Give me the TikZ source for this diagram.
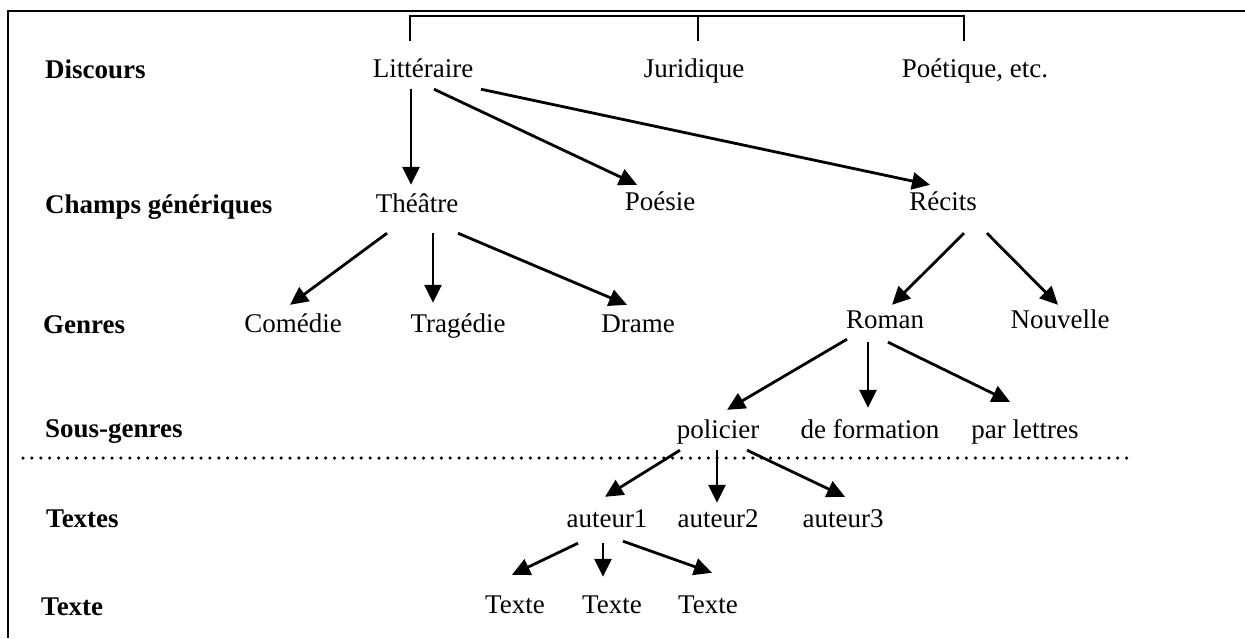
\documentclass[tikz,border=0pt]{standalone}
\usepackage{fontspec}
\setmainfont{Liberation Serif}
\usetikzlibrary{arrows.meta}

\begin{document}
\begin{tikzpicture}[x=1pt,y=-1pt,
  txt/.style={font=\fontsize{27}{32}\selectfont, text height=20pt, text depth=7pt, inner sep=5pt, anchor=base},
  lbl/.style={txt, font=\fontsize{27}{32}\selectfont\bfseries, anchor=base west},
  arr/.style={line width=2.8pt, -{Triangle[length=18pt,width=17pt]}}]

\useasboundingbox (0,0) rectangle (1245,638);
\draw [line width=1.5pt] (8,638) -- (8,11) -- (1245,11);

% levels
\node[lbl] (discours) at (40,78) {Discours};
\node[lbl] (champs) at (40,213) {Champs génériques};
\node[lbl] (genres) at (38,333) {Genres};
\node[lbl] (sousgenres) at (40,437) {Sous-genres};
\node[lbl] (textes) at (41,527) {Textes};
\node[lbl] (texte) at (36,615) {Texte};

% discours
\node[txt] (lit) at (423,77) {Littéraire};
\node[txt] (jur) at (694,77) {Juridique};
\node[txt] (poet) at (975,77) {Poétique, etc.};
\draw [line width=1.5pt] (410,41) -- (410,16) -- (964,16) -- (964,41);
\draw [line width=1.5pt] (698,16) -- (698,41);

% champs
\node[txt] (theatre) at (417,212) {Théâtre};
\node[txt] (poesie) at (660,210) {Poésie};
\node[txt] (recits) at (943,210) {Récits};

\draw[arr] ([xshift=-12pt]lit.south) -- ([xshift=-6pt,yshift=2pt]theatre.north);
\draw[arr] ([xshift=11pt]lit.south) -- ([xshift=-23pt]poesie.north);
\draw[arr] ([xshift=58pt]lit.south) -- ([xshift=-13pt]recits.north);

% genres
\node[txt] (comedie) at (293,332) {Comédie};
\node[txt] (tragedie) at (458,332) {Tragédie};
\node[txt] (drame) at (638,332) {Drame};
\node[txt] (roman) at (885,328) {Roman};
\node[txt] (nouvelle) at (1060,328) {Nouvelle};

\draw[arr] ([xshift=-30pt,yshift=-9pt]theatre.south) -- ([xshift=-3pt,yshift=2pt]comedie.north);
\draw[arr] ([xshift=16pt,yshift=-9pt]theatre.south) -- ([xshift=-25pt,yshift=4pt]tragedie.north);
\draw[arr] ([xshift=41pt,yshift=-9pt]theatre.south) -- ([xshift=-11pt,yshift=2pt]drame.north);
\draw[arr] ([xshift=21pt,yshift=-11pt]recits.south) -- ([xshift=7pt,yshift=-2pt]roman.north);
\draw[arr] ([xshift=44pt,yshift=-11pt]recits.south) -- ([xshift=-2pt,yshift=-2pt]nouvelle.north);

% sous-genres
\node[txt] (policier) at (718,438) {policier};
\node[txt] (formation) at (870,438) {de formation};
\node[txt] (lettres) at (1025,438) {par lettres};

\draw[arr] ([xshift=-38pt,yshift=1pt]roman.south) -- ([xshift=9pt,yshift=3pt]policier.north);
\draw[arr] ([xshift=-17pt,yshift=-2pt]roman.south) -- ([xshift=-2pt,yshift=5pt]formation.north);
\draw[arr] ([xshift=3pt,yshift=-2pt]roman.south) -- ([xshift=-15pt,yshift=11pt]lettres.north);

\draw [line width=3.5pt, line cap=round, dash pattern=on 0pt off 8.9pt] (23,458) -- (1130,458);

% textes
\node[txt] (aut1) at (607,527) {auteur1};
\node[txt] (aut2) at (718,527) {auteur2};
\node[txt] (aut3) at (843,527) {auteur3};

\draw[arr] ([xshift=-38pt]policier.south) -- ([xshift=-2pt,yshift=5pt]aut1.north);
\draw[arr] ([xshift=-1pt]policier.south) -- ([xshift=-1pt,yshift=-1pt]aut2.north);
\draw[arr] ([xshift=29pt]policier.south) -- ([xshift=2pt,yshift=5pt]aut3.north);

% texte
\node[txt] (t1) at (515,613) {Texte};
\node[txt] (t2) at (612,613) {Texte};
\node[txt] (t3) at (708,613) {Texte};

\draw[arr] ([xshift=-29pt,yshift=-4pt]aut1.south) -- ([xshift=-3pt,yshift=13pt]t1.north);
\draw[arr] ([xshift=-4pt,yshift=-4pt]aut1.south) -- ([xshift=-9pt,yshift=11pt]t2.north);
\draw[arr] ([xshift=16pt,yshift=-2pt]aut1.south) -- ([xshift=4pt,yshift=15pt]t3.north);
\end{tikzpicture}
\end{document}
